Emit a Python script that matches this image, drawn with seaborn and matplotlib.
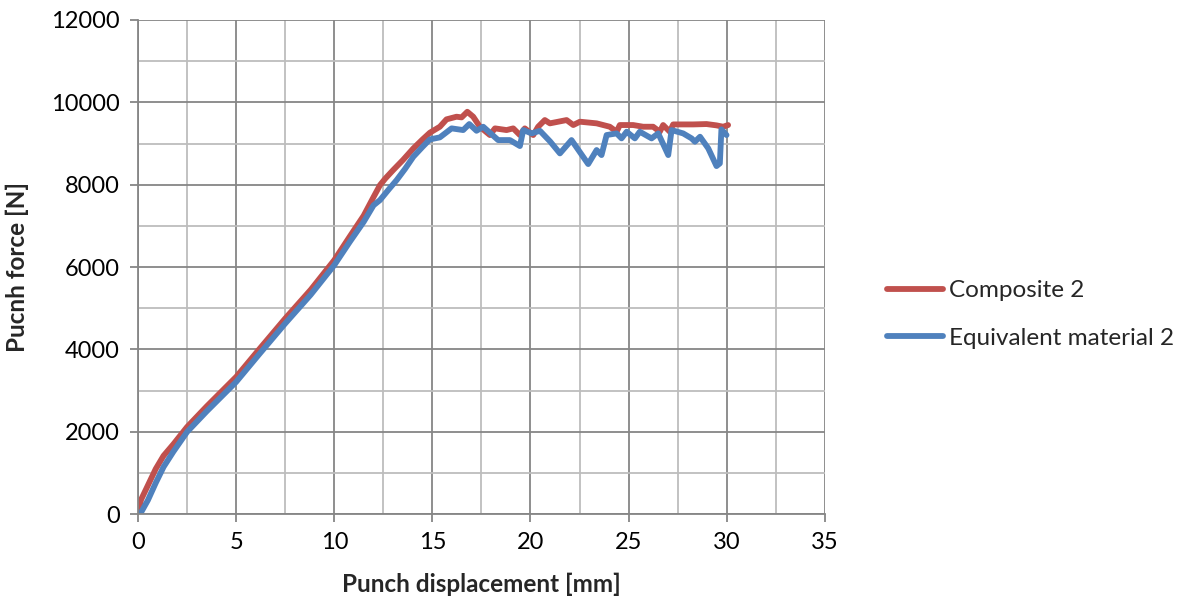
import matplotlib
matplotlib.use("Agg")
import matplotlib.pyplot as plt
from matplotlib.ticker import MultipleLocator
import seaborn as sns
import pandas as pd

# Composite 2
comp_x = [0.0, 0.15, 0.5, 0.9, 1.3, 1.8, 2.5, 3.5, 5.0, 6.2, 7.5, 8.8, 10.0, 10.8, 11.5, 12.0, 12.33, 12.6, 13.0,
          13.5, 14.03, 14.5, 14.87, 15.38, 15.72, 16.23, 16.49, 16.78, 17.08, 17.42, 17.93, 18.19, 18.78, 19.12,
          19.46, 19.71, 20.14, 20.39, 20.73, 20.99, 21.84, 22.18, 22.52, 23.37, 24.04, 24.39, 24.55, 25.23,
          25.74, 26.25, 26.59, 26.76, 27.1, 27.27, 28.29, 28.97, 29.48, 29.82, 30.07]
comp_y = [0, 350, 700, 1100, 1420, 1700, 2120, 2620, 3335, 4020, 4753, 5450, 6170, 6750, 7250, 7700, 7991, 8150,
          8355, 8600, 8882, 9100, 9262, 9408, 9587, 9651, 9635, 9771, 9651, 9408, 9206, 9368, 9327, 9368,
          9206, 9368, 9206, 9408, 9570, 9490, 9570, 9449, 9530, 9490, 9408, 9287, 9449, 9449,
          9408, 9408, 9287, 9449, 9287, 9464, 9464, 9473, 9441, 9408, 9449]

# Equivalent material 2
eq_x = [0.1, 0.5, 0.9, 1.3, 1.8, 2.5, 3.5, 5.0, 6.2, 7.5, 8.8, 10.0, 10.8, 11.5, 12.0, 12.33, 12.8, 13.18,
        13.6, 14.03, 14.5, 14.87, 15.38, 15.98, 16.57, 16.88, 17.25, 17.59, 18.35, 18.95, 19.46, 19.63, 20.06,
        20.48, 21.0, 21.5, 22.09, 22.94, 23.37, 23.62, 23.88, 24.39, 24.64, 24.9, 25.32, 25.57, 26.17, 26.51,
        27.02, 27.19, 27.78, 28.21, 28.38, 28.64, 29.06, 29.48, 29.65, 29.73, 29.99]
eq_y = [0, 340, 760, 1149, 1520, 2000, 2500, 3213, 3900, 4632, 5330, 6048, 6620, 7100, 7500, 7627, 7900, 8113,
        8380, 8680, 8920, 9100, 9149, 9368, 9327, 9473, 9310, 9408, 9084, 9084, 8939, 9327, 9246,
        9310, 9050, 8761, 9084, 8502, 8842, 8720, 9206, 9246, 9125, 9287, 9125, 9287, 9125, 9246,
        8720, 9327, 9246, 9125, 9044, 9165, 8882, 8453, 8518, 9343, 9206]

series_names = ["Composite 2", "Equivalent material 2"]
colors = ["#C0504D", "#4F81BD"]

df = pd.concat([
    pd.DataFrame({"x": comp_x, "y": comp_y, "series": series_names[0]}),
    pd.DataFrame({"x": eq_x, "y": eq_y, "series": series_names[1]}),
])

sns.set_theme(style="white")
plt.rcParams["font.family"] = ["Lato", "DejaVu Sans"]

fig = plt.figure(figsize=(11.8, 6.05), dpi=100)
ax = fig.add_axes([0.117, 0.150, 0.582, 0.817])

sns.lineplot(data=df, x="x", y="y", hue="series", palette=colors, sort=False,
             estimator=None, linewidth=4.2, ax=ax, legend=True)

ax.set_xlim(0, 35)
ax.set_ylim(0, 12000)
ax.xaxis.set_major_locator(MultipleLocator(5))
ax.xaxis.set_minor_locator(MultipleLocator(2.5))
ax.yaxis.set_major_locator(MultipleLocator(2000))
ax.yaxis.set_minor_locator(MultipleLocator(1000))
ax.grid(which="major", color="#868686", linewidth=1.3)
ax.grid(which="minor", color="#BDBDBD", linewidth=1.3)
ax.set_axisbelow(True)
for s in ["top", "right"]:
    ax.spines[s].set_visible(False)
for s in ["left", "bottom"]:
    ax.spines[s].set_color("#868686")
    ax.spines[s].set_linewidth(1.3)
ax.tick_params(axis="both", which="major", direction="out", length=6, width=1.3,
               color="#868686", labelsize=17, labelcolor="black", bottom=True, left=True, pad=7)
ax.tick_params(axis="both", which="minor", length=0)

ax.set_xlabel("Punch displacement [mm]", fontsize=17.5, fontweight="bold", labelpad=14)
ax.set_ylabel("Pucnh force [N]", fontsize=17.5, fontweight="bold", labelpad=16)

handles, labels = ax.get_legend_handles_labels()
ax.legend_.remove()
fig.legend(handles, labels, loc="center left", bbox_to_anchor=(0.733, 0.48), frameon=False,
           fontsize=17.5, handlelength=2.3, handletextpad=0.25, labelspacing=1.1)

fig.savefig("out.png", dpi=100)
